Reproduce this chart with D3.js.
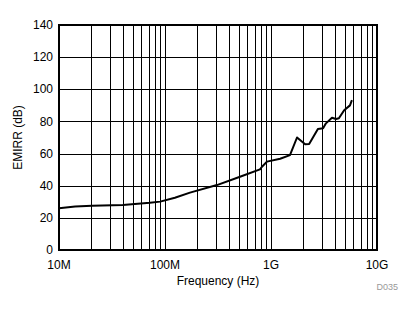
<!DOCTYPE html>
<html>
<head>
<meta charset="utf-8">
<script src="https://cdn.jsdelivr.net/npm/d3@7"></script>
<style>
  body { margin: 0; background: #fff; }
  text { font-family: "Liberation Sans", Arial, sans-serif; }
</style>
</head>
<body>
<svg id="chart" width="415" height="312"></svg>
<script>

// Frequency (Hz) and EMIRR (dB)
var freq = [1e7, 1.42e7, 2.05e7, 4.0e7, 7.2e7, 9.0e7, 1.24e8, 1.72e8, 3.09e8, 5.1e8, 7.87e8, 8.22e8,
            9.16e8, 1.22e9, 1.51e9, 1.76e9, 2.1e9, 2.29e9, 2.77e9, 3.1e9, 3.3e9, 3.76e9, 4.1e9,
            4.37e9, 4.9e9, 5.56e9, 5.8e9];
var emirr = [26, 27, 27.6, 28, 29.4, 30.1, 32.5, 35.7, 40.4, 45.6, 50.2, 51.8,
             55, 56.8, 59, 70, 65.8, 66, 75.3, 75.7, 78.8, 82.3, 81.5,
             82, 87, 90, 93.3];

var yTicks = [0, 20, 40, 60, 80, 100, 120, 140];
var xTicks = [1e7, 1e8, 1e9, 1e10];
var xTickLabels = ["10M", "100M", "1G", "10G"];

var margin = {left: 59, right: 38, top: 25, bottom: 62};
var width = 415, height = 312;

var svg = d3.select("#chart");

var x = d3.scaleLog()
    .domain([1e7, 1e10])
    .range([margin.left, width - margin.right]);

var y = d3.scaleLinear()
    .domain([0, 140])
    .range([height - margin.bottom, margin.top]);

// minor grid for the log axis: 2..9 per decade
var minor = [];
for (var d = 7; d < 10; d++) {
    for (var m = 2; m <= 9; m++) minor.push(m * Math.pow(10, d));
}

var grid = svg.append("g").attr("stroke", "#000").attr("stroke-width", 1);

grid.selectAll("line.vx")
    .data(minor.concat(xTicks))
    .enter().append("line")
        .attr("x1", function(d) { return Math.round(x(d)) + 0.5; })
        .attr("x2", function(d) { return Math.round(x(d)) + 0.5; })
        .attr("y1", y(140))
        .attr("y2", y(0));

grid.selectAll("line.hy")
    .data(yTicks)
    .enter().append("line")
        .attr("x1", x(1e7))
        .attr("x2", x(1e10))
        .attr("y1", function(d) { return Math.round(y(d)) + 0.5; })
        .attr("y2", function(d) { return Math.round(y(d)) + 0.5; });

// frame
svg.append("rect")
    .attr("x", x(1e7))
    .attr("y", y(140))
    .attr("width", x(1e10) - x(1e7))
    .attr("height", y(0) - y(140))
    .attr("fill", "none")
    .attr("stroke", "#000")
    .attr("stroke-width", 2);

// data line
var line = d3.line()
    .x(function(d, i) { return x(freq[i]); })
    .y(function(d) { return y(d); });

svg.append("path")
    .datum(emirr)
    .attr("d", line)
    .attr("fill", "none")
    .attr("stroke", "#000")
    .attr("stroke-width", 2)
    .attr("stroke-linejoin", "round");

// tick labels
svg.append("g").selectAll("text")
    .data(yTicks)
    .enter().append("text")
        .attr("x", margin.left - 6)
        .attr("y", function(d) { return y(d); })
        .attr("dy", "0.35em")
        .attr("text-anchor", "end")
        .attr("font-size", 12)
        .text(function(d) { return d; });

svg.append("g").selectAll("text")
    .data(xTicks)
    .enter().append("text")
        .attr("x", function(d) { return x(d); })
        .attr("y", y(0) + 19)
        .attr("text-anchor", "middle")
        .attr("font-size", 12)
        .text(function(d, i) { return xTickLabels[i]; });

// axis titles
svg.append("text")
    .attr("x", (x(1e7) + x(1e10)) / 2)
    .attr("y", y(0) + 35)
    .attr("text-anchor", "middle")
    .attr("font-size", 12)
    .text("Frequency (Hz)");

svg.append("text")
    .attr("transform", "translate(22," + ((y(0) + y(140)) / 2) + ") rotate(-90)")
    .attr("text-anchor", "middle")
    .attr("font-size", 12)
    .text("EMIRR (dB)");

svg.append("text")
    .attr("x", 398)
    .attr("y", 290)
    .attr("text-anchor", "end")
    .attr("font-size", 9)
    .attr("fill", "#999")
    .text("D035");

</script>
</body>
</html>
